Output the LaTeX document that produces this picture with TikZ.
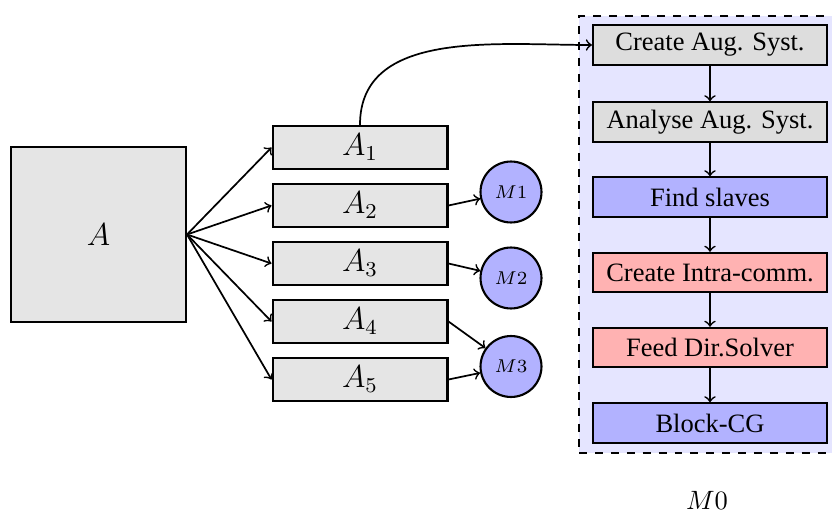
\documentclass[tikz,border=0pt]{standalone}
\usepackage[no-math]{fontspec}
\setmainfont{Liberation Serif}
\begin{document}
\begin{tikzpicture}[x=0.3774pt,y=-0.3774pt,
  abox/.style={draw,thick,fill=gray!20,inner sep=0pt,minimum width=66pt,minimum height=16.3pt,font=\large},
  bigbox/.style={draw,thick,fill=gray!20,inner sep=0pt,minimum width=66pt,minimum height=66pt,font=\large},
  mcirc/.style={draw,thick,circle,fill=blue!30,inner sep=0pt,minimum size=23pt,font=\scriptsize},
  sbox/.style={draw,thick,inner sep=0pt,minimum width=88.3pt,minimum height=14.8pt},
  grayb/.style={sbox,fill=gray!27},
  blueb/.style={sbox,fill=blue!30},
  redb/.style={sbox,fill=red!30},
  arr/.style={->,line width=0.65pt}]
\clip (0,0) rectangle (832,513);
% frame
\node[draw,thick,dashed,fill=blue!10,minimum width=98.8pt,minimum height=164.7pt,inner sep=0pt] (frame) at (710,234.5) {};
\node (m0) at (707,500) {$M0$};
% big box
\node[bigbox] (A) at (98.5,234.5) {$A$};
\node[abox] (A1) at (360,147.5) {$A_1$};
\node[abox] (A2) at (360,205.5) {$A_2$};
\node[abox] (A3) at (360,263.5) {$A_3$};
\node[abox] (A4) at (360,321.5) {$A_4$};
\node[abox] (A5) at (360,379.5) {$A_5$};
\node[mcirc] (M1) at (511,192) {$M1$};
\node[mcirc] (M2) at (511,278) {$M2$};
\node[mcirc] (M3) at (511,366.5) {$M3$};
% right column
\node[grayb] (c1) at (710,45) {Create Aug. Syst.};
\node[grayb] (c2) at (710,122) {Analyse Aug. Syst.};
\node[blueb] (c3) at (710,197) {Find slaves};
\node[redb] (c4) at (710,272.5) {Create Intra-comm.};
\node[redb] (c5) at (710,347.5) {Feed Dir.Solver};
\node[blueb] (c6) at (710,423) {Block-CG};
% arrows
\foreach \i in {1,...,5} \draw[arr] (A.east) -- (A\i.west);
\draw[arr] (A2.east) -- (M1);
\draw[arr] (A3.east) -- (M2);
\draw[arr] (A4.east) -- (M3);
\draw[arr] (A5.east) -- (M3);
\draw[arr] (A1.north) to[out=90,in=180] (c1.west);
\draw[arr] (c1) -- (c2);
\draw[arr] (c2) -- (c3);
\draw[arr] (c3) -- (c4);
\draw[arr] (c4) -- (c5);
\draw[arr] (c5) -- (c6);
\end{tikzpicture}
\end{document}
